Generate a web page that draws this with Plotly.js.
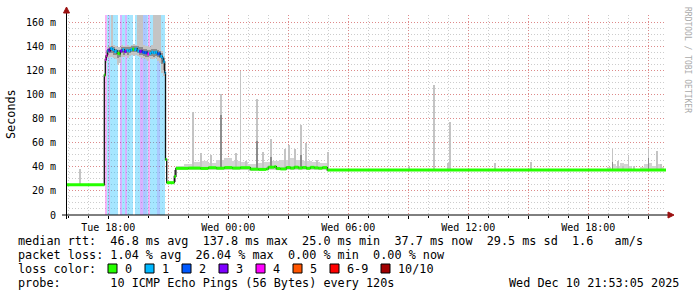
<!DOCTYPE html>
<html><head><meta charset="utf-8">
<script src="https://cdn.plot.ly/plotly-3.0.1.min.js"></script>
<style>html,body{margin:0;padding:0;background:#fff;}#chart{width:697px;height:297px;}</style>
</head><body><div id="chart"></div>
<script>
// ---- time in hours since Tue 2025-12-09 00:00 ----
const START = 15.885, END = 45.885;   // Tue 15:53:05 .. Wed 21:53:05
const TOP = 165.8;

// x tick labels
const xTickVals = [18, 21, 24, 27, 30, 33, 36, 39, 42, 45];
const xTickText = ["Tue 18:00", "", "Wed 00:00", "", "Wed 06:00", "", "Wed 12:00", "", "Wed 18:00", ""];
const yTickVals = [0, 20, 40, 60, 80, 100, 120, 140, 160];
const yTickText = ["0", "20 m", "40 m", "60 m", "80 m", "100 m", "120 m", "140 m", "160 m"];

// median rtt (ms), step series
const medianT = [15.885, 17.8, 17.85, 17.9, 17.95, 18.0, 18.05, 18.1, 18.2, 18.3, 18.4, 18.45, 18.55, 18.6, 18.7, 18.8, 18.9, 19.0, 19.1, 19.2, 19.3, 19.4, 19.45, 19.55, 19.65, 19.7, 19.8, 19.9, 19.95, 20.05, 20.15, 20.25, 20.35, 20.45, 20.55, 20.6, 20.7, 20.75, 20.82, 20.86, 20.92, 21.3, 21.38, 22.0, 22.6, 23.0, 23.4, 23.8, 24.2, 24.6, 25.1, 25.5, 25.9, 26.0, 26.3, 26.4, 26.6, 26.9, 27.1, 27.3, 27.5, 27.7, 27.9, 28.1, 28.3, 28.5, 28.7, 28.95, 45.885];
const medianV = [25.0, 116, 129, 132, 136, 137, 136, 138, 137, 135.5, 136, 134, 133.5, 136, 137, 135.5, 136.5, 136, 137, 137.5, 137, 138, 136, 135.5, 136, 135, 134.5, 135, 133.5, 134, 135, 134.5, 135, 133.5, 134, 131.5, 130, 127, 118, 46, 26.8, 32, 38.7, 38.9, 38.6, 39.2, 38.8, 39.3, 38.9, 39.2, 38.0, 37.8, 38.2, 39.6, 40.0, 38.5, 38.2, 39.4, 38.9, 39.6, 39.0, 39.4, 38.7, 39.5, 39.1, 38.8, 39.3, 37.3, 37.3];

// packet loss periods (pings lost out of 10)
const lossFrom  = [17.85, 17.935, 18.015, 18.1, 18.6, 18.7, 18.85, 18.95, 19.35, 19.6, 19.75, 19.95, 20.0, 20.1, 20.45, 20.6];
const lossTo    = [17.935, 18.015, 18.1, 18.5, 18.7, 18.85, 18.95, 19.25, 19.6, 19.75, 19.95, 20.0, 20.1, 20.45, 20.6, 20.85];
const lossCount = [4, 1, 3, 1, 3, 1, 3, 1, 1, 3, 2, 1, 4, 1, 2, 1];

// smoke during the high-latency period (ms), 6-minute slots
const highT  = [17.85, 17.95, 18.05, 18.15, 18.25, 18.35, 18.45, 18.55, 18.65, 18.75, 18.85, 18.95, 19.05, 19.15, 19.25, 19.35, 19.45, 19.55, 19.65, 19.75, 19.85, 19.95, 20.05, 20.15, 20.25, 20.35, 20.45, 20.55, 20.65, 20.75];
const highLo = [126, 130, 131, 131, 130, 129, 124, 126, 131, 131, 132, 130, 132, 133, 132, 133, 132, 131, 130, 130, 129, 128, 130, 129, 129, 130, 128, 126, 118, 115];
const highHi = [133, 139, 140, 170, 141, 140, 139, 139, 141, 140, 140, 141, 140, 141, 142, 141, 170, 170, 170, 141, 140, 140, 139, 141, 170, 170, 170, 170, 136, 132];
const highDarkLo = [128, 133, 134, 134, 133, 133, 130, 131, 134, 133, 134, 133, 134, 135, 135, 135, 134, 133, 133, 132, 131, 131, 132, 132, 131, 132, 131, 130, 125, 120];
const highDarkHi = [132, 138, 139, 140, 139, 138, 137, 137, 139, 139, 139, 139, 139, 140, 140, 140, 140, 139, 139, 138, 138, 137, 137, 138, 138, 138, 137, 136, 134, 130];

// low-level smoke after recovery, 24-minute slots
const midT  = [21.4, 21.8, 22.2, 22.6, 23.0, 23.4, 23.8, 24.2, 24.6, 25.0, 25.4, 25.8, 26.2, 26.6, 27.0, 27.4, 27.8, 28.2, 28.6];
const midLo = [37.5, 37.5, 37.5, 37.5, 37.5, 37.5, 37.5, 37, 37, 36.5, 36.5, 37, 37, 37, 37.5, 37.5, 37.5, 37.5, 37.5];
const midHi = [41, 42, 44, 45, 43, 46, 47, 45, 44, 42, 43, 44, 45, 46, 47, 46, 45, 44, 43];

// low-level smoke in the evening, 12-minute slots
const lateT  = [42.95, 43.2, 43.4, 43.6, 43.8, 44.0, 44.6, 44.8, 45.0, 45.2, 45.4, 45.6];
const lateLo = [37, 37, 37, 37, 37, 37, 37, 37, 37, 37, 37, 37];
const lateHi = [40, 42, 41, 43, 42, 41, 40, 42, 43, 41, 42, 40];

// individual spikes (max rtt of a round)
const spikeT  = [16.55, 22.185, 22.585, 23.085, 23.585, 24.335, 24.56, 24.835, 25.385, 25.685, 26.085, 26.785, 26.985, 27.285, 27.585, 27.835, 28.385, 28.935, 32.985, 34.235, 34.935, 35.035, 37.285, 39.085, 43.16, 43.435, 43.685, 43.96, 44.235, 44.96, 45.385, 45.585];
const spikeLo = [25, 38, 38, 38, 38, 38, 38, 38, 37, 37, 38, 38, 38, 38, 38, 38, 38, 37, 37, 37, 37, 37, 37, 37, 37, 37, 37, 37, 37, 37, 37, 37];
const spikeHi = [38, 85, 51, 50, 100, 51, 119, 45, 96, 52, 63, 55, 58, 55, 75, 60, 46, 52, 41, 108, 43, 77, 43, 44, 55, 45, 41, 50, 41, 55, 53, 42];
const darkT  = [21.3, 23.585, 25.385, 26.085, 27.585, 43.16, 44.96];
const darkLo = [27, 40, 39, 39, 39, 37, 37];
const darkHi = [37, 83, 61, 48, 50, 44, 47];

// legend
const lossColors = ["#26ff00", "#00b8ff", "#0059ff", "#7e00ff", "#ff00ff", "#ff5500", "#ff0000", "#a10000"];
const lossLabels = ["0", "1", "2", "3", "4", "5", "6-9", "10/10"];
const statLine1 = "median rtt:  46.8 ms avg  137.8 ms max  25.0 ms min  37.7 ms now  29.5 ms sd  1.6   am/s";
const statLine2 = "packet loss: 1.04 % avg  26.04 % max  0.00 % min  0.00 % now";
const probeLine = "probe:       10 ICMP Echo Pings (56 Bytes) every 120s";
const dateText = "Wed Dec 10 21:53:05 2025";

// ---------------- drawing ----------------
const L = 66, T = 15, W = 600, H = 200;
const px = x => (x - L) / W;
const py = y => (T + H - y) / H;
const MONO = "DejaVu Sans Mono";
const lossLevelColor = c => lossColors[Math.min(c, 5)];
const bandColor = c => ["", "rgba(0,184,255,0.35)", "rgba(0,89,255,0.33)", "rgba(126,0,255,0.30)", "rgba(230,0,230,0.30)"][c];

const traces = [];
traces.push({type: "bar", x: lossFrom, y: lossFrom.map(() => TOP), base: 0, offset: 0,
  width: lossFrom.map((f, i) => lossTo[i] - f),
  marker: {color: lossCount.map(bandColor), line: {width: 0}}, hoverinfo: "skip"});
function smoke(x, lo, hi, w, color) {
  return {type: "bar", x: x, y: hi.map((h, i) => h - lo[i]), base: lo, offset: 0, width: w,
    marker: {color: color, line: {width: 0}}, hoverinfo: "skip"};
}
const LIGHT = "#c4c4c4", DARK = "#8c8c8c";
traces.push(smoke(highT, highLo, highHi, 0.1, LIGHT));
traces.push(smoke(midT, midLo, midHi, 0.4, "#d4d4d4"));
traces.push(smoke(lateT, lateLo, lateHi, 0.2, "#d4d4d4"));
traces.push(smoke(spikeT, spikeLo, spikeHi, 0.09, LIGHT));
traces.push(smoke(highT, highDarkLo, highDarkHi, 0.1, DARK));
traces.push(smoke(darkT, darkLo, darkHi, 0.09, DARK));

traces.push({type: "scatter", mode: "lines", x: medianT, y: medianV, line: {shape: "hv", color: "#111", width: 1.3}, hoverinfo: "skip"});
function lossAt(t) {
  for (let i = 0; i < lossFrom.length; i++) if (t >= lossFrom[i] && t < lossTo[i]) return lossCount[i];
  return 0;
}
const segs = {};
for (let i = 0; i < medianT.length - 1; i++) {
  const t0 = medianT[i], t1 = medianT[i + 1];
  const c = lossLevelColor(lossAt((t0 + t1) / 2));
  if (!segs[c]) segs[c] = {x: [], y: []};
  segs[c].x.push(t0, t1, null); segs[c].y.push(medianV[i], medianV[i], null);
}
Object.keys(segs).forEach(c => traces.push({type: "scatter", mode: "lines", x: segs[c].x, y: segs[c].y,
  line: {color: c, width: 3}, hoverinfo: "skip", connectgaps: false}));

const ann = [];
const FS = 11.8;
const txt = (x, y, s, opt) => ann.push(Object.assign({xref: "paper", yref: "paper", x: px(x), y: py(y), text: s.replace(/ /g, "\u00a0"),
  showarrow: false, xanchor: "left", yanchor: "middle", font: {family: MONO, size: FS, color: "#000"}}, opt || {}));
txt(16, 241, statLine1);
txt(16, 255, statLine2);
txt(16, 269, "loss color:");
const boxX = [108, 145, 182, 219, 256, 293, 330, 381];
const shapes = [];
lossLabels.forEach((s, i) => {
  txt(boxX[i] + 15, 269, s);
  shapes.push({type: "rect", xref: "paper", yref: "paper", x0: px(boxX[i]), x1: px(boxX[i] + 9), y0: py(264), y1: py(273),
    fillcolor: lossColors[i], line: {color: "#000", width: 1}});
});
txt(16, 283, probeLine);
txt(681, 283, dateText, {xanchor: "right"});
txt(11, 114, "Seconds", {xanchor: "center", textangle: -90});
txt(687, 60, "RRDTOOL / TOBI OETIKER", {xanchor: "center", textangle: 90, font: {family: MONO, size: 8, color: "#aaaaaa"}});

shapes.push({type: "line", xref: "paper", yref: "paper", x0: px(62), x1: px(669), y0: py(215), y1: py(215), line: {color: "#000", width: 1}});
shapes.push({type: "line", xref: "paper", yref: "paper", x0: px(66.5), x1: px(66.5), y0: py(219), y1: py(11), line: {color: "#000", width: 1}});
shapes.push({type: "path", xref: "paper", yref: "paper", path: `M ${px(668)} ${py(212)} L ${px(674)} ${py(215)} L ${px(668)} ${py(218)} Z`, fillcolor: "#9b1010", line: {color: "#9b1010", width: 1}});
shapes.push({type: "path", xref: "paper", yref: "paper", path: `M ${px(63.5)} ${py(13)} L ${px(66.5)} ${py(7)} L ${px(69.5)} ${py(13)} Z`, fillcolor: "#9b1010", line: {color: "#9b1010", width: 1}});

const layout = {
  width: 697, height: 297, margin: {l: L, r: 697 - L - W, t: T, b: 297 - T - H, pad: 0},
  paper_bgcolor: "#fff", plot_bgcolor: "#fff", showlegend: false, barmode: "overlay", bargap: 0,
  font: {family: MONO, size: 10, color: "#000"},
  xaxis: {range: [START, END], tickmode: "array", tickvals: xTickVals, ticktext: xTickText,
    showgrid: true, gridcolor: "rgba(255,0,0,0.33)", griddash: "1px,2px", gridwidth: 1,
    ticks: "outside", ticklen: 3, tickcolor: "#000", zeroline: false, showline: false,
    tickfont: {family: MONO, size: 10, color: "#000"}, ticklabelstandoff: 0,
    minor: {tick0: 0, dtick: 1, showgrid: true, gridcolor: "rgba(128,128,128,0.4)", griddash: "1px,2px", ticks: "outside", ticklen: 2, tickcolor: "#000"}},
  yaxis: {range: [0, TOP], tickmode: "array", tickvals: yTickVals, ticktext: yTickText,
    showgrid: true, gridcolor: "rgba(255,0,0,0.33)", griddash: "1px,2px", gridwidth: 1,
    ticks: "", zeroline: false, showline: false, ticklabelstandoff: 9,
    tickfont: {family: MONO, size: 10, color: "#000"},
    minor: {tick0: 0, dtick: 5, showgrid: true, gridcolor: "rgba(128,128,128,0.4)", griddash: "1px,2px"}},
  shapes: shapes, annotations: ann
};
Plotly.newPlot("chart", traces, layout, {staticPlot: true, displayModeBar: false});
</script></body></html>
